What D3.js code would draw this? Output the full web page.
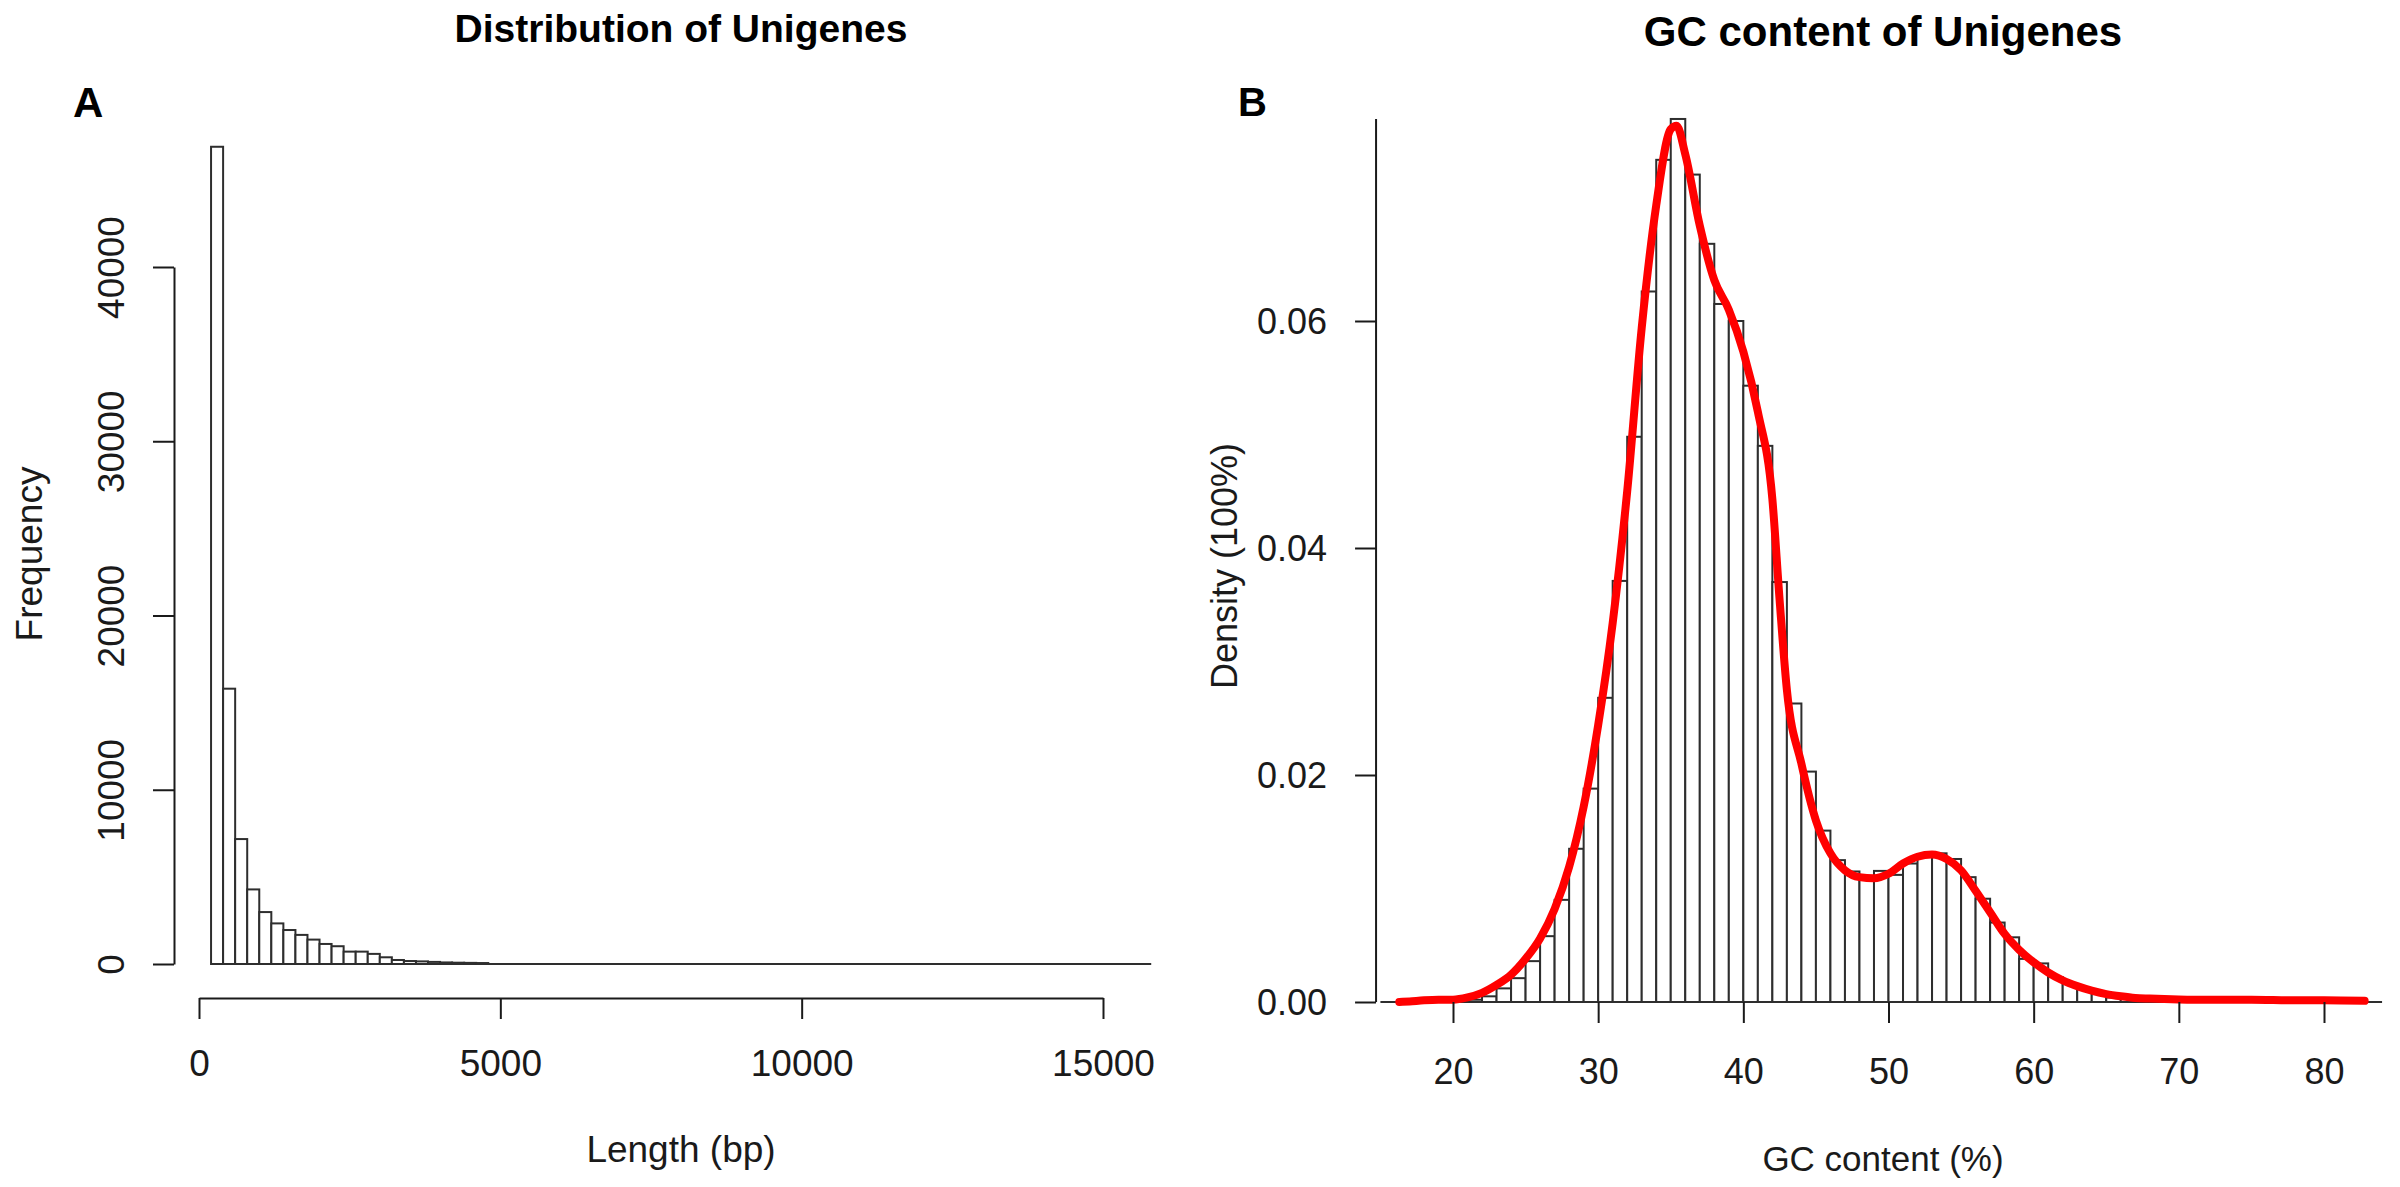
<!DOCTYPE html>
<html><head><meta charset="utf-8">
<script src="https://cdn.jsdelivr.net/npm/d3@7"></script>
<style>html,body{margin:0;padding:0;background:#fff;} svg{display:block;font-family:"Liberation Sans",Arial,sans-serif;}</style>
</head><body>
<svg id="chart" width="2400" height="1187"></svg>
<script>
// ---------- Panel A: length distribution (histogram, 200 bp bins) ----------
const lengthBinStart = 200;
const lengthBinWidth = 200;
const lengthCounts = [46900, 15800, 7170, 4280, 2980, 2330, 1950, 1670, 1400, 1150, 1020, 710, 710, 580, 385, 230, 170, 150, 120, 90, 75, 65, 55];
const lengthLastBreak = 15800;
const lengthXTicks = [0, 5000, 10000, 15000];
const lengthYTicks = [0, 10000, 20000, 30000, 40000];

// ---------- Panel B: GC content (density histogram, 1% bins) ----------
const gcBinStart = 15;
const gcDensity = [0, 0, 0, 0.0001, 0.0001, 0.0001, 0.0002, 0.0005, 0.0012, 0.0021,
  0.0036, 0.0058, 0.009, 0.0135, 0.0188, 0.0268, 0.0371, 0.0498, 0.0626, 0.0742,
  0.0778, 0.0729, 0.0668, 0.0615, 0.060, 0.0543, 0.049, 0.037, 0.0263, 0.0203,
  0.0151, 0.0125, 0.0115, 0.011, 0.01155, 0.0112, 0.0122, 0.0129, 0.0131, 0.0126,
  0.011, 0.0091, 0.0070, 0.0057, 0.0038, 0.0034, 0.0022, 0.0016, 0.0012, 0.0007,
  0.0004, 0.0003, 0.0002, 0.00015, 0.0001, 0.00005, 0.00005, 0.00005, 0.00005, 0.00005,
  0.00005, 0.00005, 0.00005, 0, 0, 0, 0, 0, 0];
const gcCurveX = [16.3, 17, 18, 19, 20, 21, 22, 23, 24, 25, 26, 27, 28, 29, 30, 31, 32, 33, 34, 35, 35.4, 36, 37, 38, 39, 40, 41, 42, 42.5, 43, 44, 45, 46, 47, 48, 49, 50, 51, 52, 53, 54, 55, 56, 57, 58, 59, 60, 61, 62, 63, 64, 65, 66, 67, 68, 70, 72, 75, 78, 80, 82.8];
const gcCurveY = [0, 0.00005, 0.00015, 0.0002, 0.0002, 0.0004, 0.0008, 0.0015, 0.0024, 0.0038, 0.0056, 0.0082, 0.0119, 0.0172, 0.0244, 0.0334, 0.045, 0.0594, 0.0702, 0.0769, 0.0772, 0.0747, 0.0684, 0.0636, 0.061, 0.0573, 0.052, 0.0443, 0.0354, 0.0275, 0.021, 0.016, 0.0131, 0.0116, 0.011, 0.0109, 0.0113, 0.0122, 0.0128, 0.013, 0.0126, 0.0116, 0.0098, 0.0079, 0.006, 0.0046, 0.0035, 0.0026, 0.0019, 0.0014, 0.001, 0.0007, 0.0005, 0.00035, 0.0003, 0.00023, 0.0002, 0.0002, 0.00015, 0.00015, 0.0001];
const gcXTicks = [20, 30, 40, 50, 60, 70, 80];
const gcYTicks = [0, 0.02, 0.04, 0.06];
const gcYMax = 0.0778;
const gcXLeft = 14.7;

const svg = d3.select("#chart");
const INK = "#1a1a1a";
const BAR = "#2e2e2e";
const FONT = '"Liberation Sans",Arial,sans-serif';

// ================= PANEL A =================
const xA = d3.scaleLinear().domain([0, 15000]).range([199, 1103]);
const yA = d3.scaleLinear().domain([0, 40000]).range([964, 267]);
const gA = svg.append("g");

// baseline of zero-height bins
gA.append("line")
  .attr("x1", xA(lengthBinStart)).attr("x2", xA(lengthLastBreak))
  .attr("y1", yA(0)).attr("y2", yA(0))
  .attr("stroke", BAR).attr("stroke-width", 2);

gA.selectAll("rect.bar").data(lengthCounts).join("rect")
  .attr("class", "bar")
  .attr("x", (d, i) => xA(lengthBinStart + i * lengthBinWidth))
  .attr("width", (d, i) => xA(lengthBinStart + (i + 1) * lengthBinWidth) - xA(lengthBinStart + i * lengthBinWidth))
  .attr("y", d => yA(d))
  .attr("height", d => yA(0) - yA(d))
  .attr("fill", "#fff").attr("stroke", BAR).attr("stroke-width", 2);

// y axis A
const yAxisA = gA.append("g").attr("transform", `translate(174,0)`)
  .call(d3.axisLeft(yA).tickValues(lengthYTicks).tickSize(21).tickSizeOuter(0).tickFormat(d3.format("d")));
yAxisA.selectAll("path,line").attr("stroke", INK).attr("stroke-width", 2);
yAxisA.selectAll("text")
  .attr("x", null).attr("dy", null)
  .attr("transform", "translate(-50,0) rotate(-90)")
  .attr("text-anchor", "middle")
  .attr("font-size", 37).attr("fill", INK)
  .style("font-family", FONT);

// x axis A
const xAxisA = gA.append("g").attr("transform", `translate(0,998)`)
  .call(d3.axisBottom(xA).tickValues(lengthXTicks).tickSize(21).tickSizeOuter(0).tickFormat(d3.format("d")));
xAxisA.selectAll("path,line").attr("stroke", INK).attr("stroke-width", 2);
xAxisA.selectAll("text")
  .attr("y", 78).attr("dy", null)
  .attr("font-size", 37).attr("fill", INK)
  .style("font-family", FONT);

gA.append("text").text("Length (bp)")
  .attr("x", 681).attr("y", 1162).attr("text-anchor", "middle")
  .attr("font-size", 37).attr("fill", INK);
gA.append("text").text("Frequency")
  .attr("transform", "translate(42,554) rotate(-90)").attr("text-anchor", "middle")
  .attr("font-size", 37).attr("fill", INK);
gA.append("text").text("Distribution of Unigenes")
  .attr("x", 681).attr("y", 42).attr("text-anchor", "middle")
  .attr("font-size", 39).attr("font-weight", "bold").attr("fill", "#000");
gA.append("text").text("A")
  .attr("x", 73).attr("y", 117)
  .attr("font-size", 42).attr("font-weight", "bold").attr("fill", "#000");

// ================= PANEL B =================
const xB = d3.scaleLinear().domain([20, 80]).range([1453, 2324]);
const yB = d3.scaleLinear().domain([0, 0.06]).range([1002, 321]);
const gB = svg.append("g");

gB.append("line")
  .attr("x1", xB(gcBinStart)).attr("x2", xB(gcBinStart + gcDensity.length))
  .attr("y1", yB(0)).attr("y2", yB(0))
  .attr("stroke", BAR).attr("stroke-width", 2);

gB.selectAll("rect.bar").data(gcDensity).join("rect")
  .attr("class", "bar")
  .attr("x", (d, i) => xB(gcBinStart + i))
  .attr("width", (d, i) => xB(gcBinStart + i + 1) - xB(gcBinStart + i))
  .attr("y", d => yB(d))
  .attr("height", d => yB(0) - yB(d))
  .attr("fill", "#fff").attr("stroke", BAR).attr("stroke-width", 2);

// density curve
const curvePts = gcCurveX.map((x, i) => [x, gcCurveY[i]]);
gB.append("path").datum(curvePts)
  .attr("d", d3.line().x(d => xB(d[0])).y(d => yB(d[1])).curve(d3.curveMonotoneX))
  .attr("fill", "none").attr("stroke", "#ff0000").attr("stroke-width", 8)
  .attr("stroke-linejoin", "round").attr("stroke-linecap", "round");

// y axis B (line extends to top of plot)
const yAxisB = gB.append("g").attr("transform", `translate(${xB(gcXLeft)},0)`)
  .call(d3.axisLeft(yB).tickValues(gcYTicks).tickSize(21).tickSizeOuter(0).tickFormat(d3.format(".2f")));
yAxisB.select("path.domain").remove();
yAxisB.append("line").attr("x1", 0).attr("x2", 0).attr("y1", yB(0)).attr("y2", yB(gcYMax));
yAxisB.selectAll("path,line").attr("stroke", INK).attr("stroke-width", 2);
yAxisB.selectAll("text")
  .attr("x", -49).attr("dy", "0.36em")
  .attr("font-size", 36).attr("fill", INK)
  .style("font-family", FONT);

// x axis B (ticks hang from baseline)
const xAxisB = gB.append("g").attr("transform", `translate(0,${yB(0)})`)
  .call(d3.axisBottom(xB).tickValues(gcXTicks).tickSize(21).tickSizeOuter(0));
xAxisB.select("path.domain").remove();
xAxisB.selectAll("line").attr("stroke", INK).attr("stroke-width", 2);
xAxisB.selectAll("text")
  .attr("y", 82).attr("dy", null)
  .attr("font-size", 36).attr("fill", INK)
  .style("font-family", FONT);

gB.append("text").text("GC content (%)")
  .attr("x", 1883).attr("y", 1171).attr("text-anchor", "middle")
  .attr("font-size", 35).attr("fill", INK);
gB.append("text").text("Density (100%)")
  .attr("transform", "translate(1237,566) rotate(-90)").attr("text-anchor", "middle")
  .attr("font-size", 36).attr("fill", INK);
gB.append("text").text("GC content of Unigenes")
  .attr("x", 1883).attr("y", 46).attr("text-anchor", "middle")
  .attr("font-size", 42).attr("font-weight", "bold").attr("fill", "#000");
gB.append("text").text("B")
  .attr("x", 1238).attr("y", 116)
  .attr("font-size", 40).attr("font-weight", "bold").attr("fill", "#000");
</script>
</body></html>
